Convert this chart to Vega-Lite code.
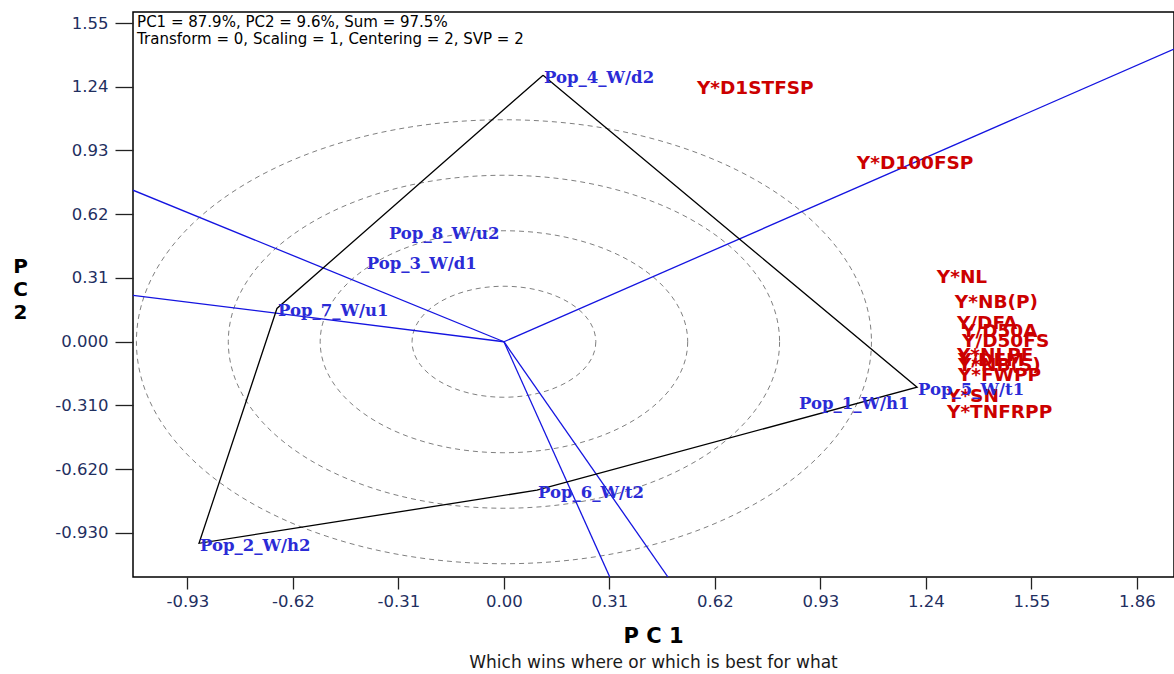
{
  "$schema": "https://vega.github.io/schema/vega-lite/v6.json",
  "width": 1041,
  "height": 565,
  "autosize": {"type": "none"},
  "padding": {"left": 133, "top": 12, "right": 0, "bottom": 97},
  "background": "white",
  "config": {"view": {"stroke": "black", "strokeWidth": 1.5}, "font": "DejaVu Sans"},
  "title": {
    "text": "P C 1",
    "subtitle": "Which wins where or which is best for what",
    "orient": "bottom",
    "anchor": "middle",
    "frame": "group",
    "font": "DejaVu Sans",
    "fontSize": 21,
    "fontWeight": "bold",
    "color": "black",
    "subtitleFont": "DejaVu Sans",
    "subtitleFontSize": 17,
    "subtitleColor": "#1a1a1a",
    "offset": 16,
    "subtitlePadding": 8
  },
  "datasets": {
    "circles": [
      {"pc1": 0, "pc2": 0, "r": 0.27},
      {"pc1": 0, "pc2": 0, "r": 0.54},
      {"pc1": 0, "pc2": 0, "r": 0.81},
      {"pc1": 0, "pc2": 0, "r": 1.08}
    ],
    "rays": [
      {"ray": 1, "pc1": 0, "pc2": 0}, {"ray": 1, "pc1": 1.969, "pc2": 1.423},
      {"ray": 2, "pc1": 0, "pc2": 0}, {"ray": 2, "pc1": -1.09, "pc2": 0.737},
      {"ray": 3, "pc1": 0, "pc2": 0}, {"ray": 3, "pc1": -1.09, "pc2": 0.226},
      {"ray": 4, "pc1": 0, "pc2": 0}, {"ray": 4, "pc1": 0.311, "pc2": -1.144},
      {"ray": 5, "pc1": 0, "pc2": 0}, {"ray": 5, "pc1": 0.482, "pc2": -1.144}
    ],
    "hull": [
      {"k": 1, "pc1": 0.115, "pc2": 1.296},
      {"k": 2, "pc1": 1.214, "pc2": -0.221},
      {"k": 3, "pc1": 0.097, "pc2": -0.722},
      {"k": 4, "pc1": -0.896, "pc2": -0.98},
      {"k": 5, "pc1": -0.667, "pc2": 0.162},
      {"k": 6, "pc1": 0.115, "pc2": 1.296}
    ],
    "traits": [
      {"name": "Y*D1STFSP", "pc1": 0.567, "pc2": 1.233},
      {"name": "Y*D100FSP", "pc1": 1.037, "pc2": 0.868},
      {"name": "Y*NL", "pc1": 1.272, "pc2": 0.314},
      {"name": "Y*NB(P)", "pc1": 1.325, "pc2": 0.192},
      {"name": "Y/DFA", "pc1": 1.331, "pc2": 0.09},
      {"name": "Y/D50A", "pc1": 1.346, "pc2": 0.051},
      {"name": "Y/D50FS", "pc1": 1.346, "pc2": 0.002},
      {"name": "Y*NLPE", "pc1": 1.331, "pc2": -0.066},
      {"name": "Y/DEM", "pc1": 1.334, "pc2": -0.09},
      {"name": "Y*NB(S)", "pc1": 1.334, "pc2": -0.114},
      {"name": "Y*FWPP", "pc1": 1.334, "pc2": -0.163},
      {"name": "Y*SN", "pc1": 1.302, "pc2": -0.265},
      {"name": "Y*TNFRPP", "pc1": 1.302, "pc2": -0.343}
    ],
    "genotypes": [
      {"name": "Pop_1_W/h1", "pc1": 0.864, "pc2": -0.289},
      {"name": "Pop_2_W/h2", "pc1": -0.896, "pc2": -0.98},
      {"name": "Pop_3_W/d1", "pc1": -0.406, "pc2": 0.392},
      {"name": "Pop_4_W/d2", "pc1": 0.115, "pc2": 1.296},
      {"name": "Pop_5_W/t1", "pc1": 1.214, "pc2": -0.221},
      {"name": "Pop_6_W/t2", "pc1": 0.097, "pc2": -0.722},
      {"name": "Pop_7_W/u1", "pc1": -0.667, "pc2": 0.162},
      {"name": "Pop_8_W/u2", "pc1": -0.341, "pc2": 0.54}
    ]
  },
  "layer": [
    {
      "data": {"name": "circles"},
      "mark": {
        "type": "point",
        "shape": "M1,0C1,0.3336,0.5523,0.604,0,0.604C-0.5523,0.604,-1,0.3336,-1,0C-1,-0.3336,-0.5523,-0.604,0,-0.604C0.5523,-0.604,1,-0.3336,1,0Z",
        "filled": false,
        "stroke": "#808080",
        "strokeWidth": 1,
        "strokeDash": [5, 4],
        "opacity": 1
      },
      "encoding": {
        "x": {
          "field": "pc1",
          "type": "quantitative",
          "scale": {"domain": [-1.09, 1.969], "nice": false, "zero": false},
          "axis": {
            "values": [-0.93, -0.62, -0.31, 0, 0.31, 0.62, 0.93, 1.24, 1.55, 1.86],
            "labelExpr": "(datum.value < 0 ? '-' : '') + format(abs(datum.value), '.2f')",
            "title": null,
            "grid": false,
            "domain": false,
            "tickSize": 12,
            "tickColor": "#222222",
            "tickWidth": 1.3,
            "labelFont": "DejaVu Sans",
            "labelFontSize": 16.5,
            "labelColor": "#1f2f5f",
            "labelPadding": 4,
            "labelFlush": false,
            "labelOverlap": false
          }
        },
        "y": {
          "field": "pc2",
          "type": "quantitative",
          "scale": {"domain": [-1.144, 1.6035], "nice": false, "zero": false},
          "axis": {
            "values": [-0.93, -0.62, -0.31, 0, 0.31, 0.62, 0.93, 1.24, 1.55],
            "labelExpr": "datum.value > 0.1 ? format(datum.value, '.2f') : (datum.value < 0 ? '-' : '') + format(abs(datum.value), '.3f')",
            "title": ["P", "C", "2"],
            "titleAngle": 0,
            "titleFont": "DejaVu Sans",
            "titleFontSize": 20,
            "titleFontWeight": "bold",
            "titleColor": "black",
            "titleX": -113,
            "titleY": 244,
            "titleAlign": "center",
            "titleBaseline": "top",
            "titleLineHeight": 23,
            "grid": false,
            "domain": false,
            "tickSize": 18,
            "tickColor": "#222222",
            "tickWidth": 1.3,
            "labelFont": "DejaVu Sans",
            "labelFontSize": 16.5,
            "labelColor": "#1f2f5f",
            "labelPadding": 7,
            "labelFlush": false,
            "labelOverlap": false
          }
        },
        "size": {
          "field": "r",
          "type": "quantitative",
          "scale": {"type": "pow", "exponent": 2, "domain": [0, 1.2], "range": [0, 667036]},
          "legend": null
        }
      }
    },
    {
      "data": {"name": "rays"},
      "mark": {"type": "line", "color": "#1414e0", "strokeWidth": 1.3, "clip": true},
      "encoding": {
        "x": {"field": "pc1", "type": "quantitative"},
        "y": {"field": "pc2", "type": "quantitative"},
        "detail": {"field": "ray", "type": "nominal"}
      }
    },
    {
      "data": {"name": "hull"},
      "mark": {"type": "line", "color": "black", "strokeWidth": 1.3},
      "encoding": {
        "x": {"field": "pc1", "type": "quantitative"},
        "y": {"field": "pc2", "type": "quantitative"},
        "order": {"field": "k", "type": "quantitative"}
      }
    },
    {
      "data": {"name": "traits"},
      "mark": {"type": "text", "align": "left", "baseline": "middle", "font": "DejaVu Sans", "fontSize": 18.5, "fontWeight": "bold", "color": "#cc0000"},
      "encoding": {
        "x": {"field": "pc1", "type": "quantitative"},
        "y": {"field": "pc2", "type": "quantitative"},
        "text": {"field": "name", "type": "nominal"}
      }
    },
    {
      "data": {"name": "genotypes"},
      "mark": {"type": "text", "align": "left", "baseline": "middle", "dx": 1, "dy": 3, "font": "DejaVu Serif", "fontSize": 16.5, "fontWeight": "bold", "color": "#2b2bd6"},
      "encoding": {
        "x": {"field": "pc1", "type": "quantitative"},
        "y": {"field": "pc2", "type": "quantitative"},
        "text": {"field": "name", "type": "nominal"}
      }
    },
    {
      "data": {"values": [{}]},
      "mark": {"type": "text", "align": "left", "baseline": "top", "font": "DejaVu Sans", "fontSize": 15, "lineHeight": 17, "color": "black"},
      "encoding": {
        "x": {"datum": -1.078},
        "y": {"datum": 1.588},
        "text": {"value": ["PC1 = 87.9%, PC2 = 9.6%, Sum = 97.5%", "Transform = 0, Scaling = 1, Centering = 2, SVP = 2"]}
      }
    }
  ]
}
